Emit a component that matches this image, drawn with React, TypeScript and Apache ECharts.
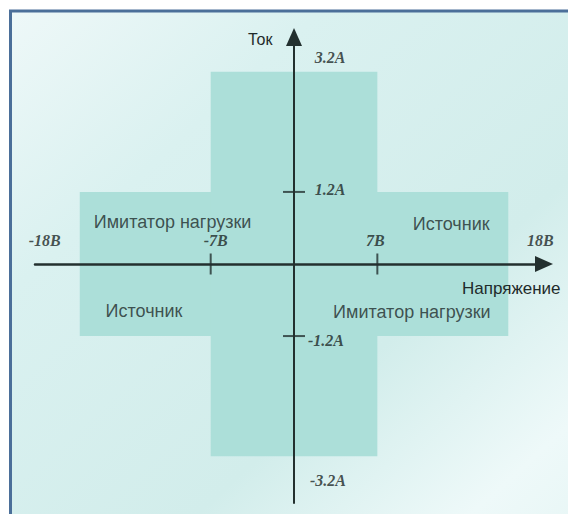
import React, { useEffect, useRef } from "react";
import * as echarts from "echarts";

// Operating region (volts, amps)
const outerVoltage = [-18, 18];
const outerCurrent = [-1.2, 1.2];
const innerVoltage = [-7, 7];
const innerCurrent = [-3.2, 3.2];

// Tick marks on axes
const voltageTicks = [-7, 7];
const currentTicks = [1.2, -1.2];

// Axis value labels
const voltageLabels = ["-18B", "-7B", "7B", "18B"];
const voltageLabelValues = [-18, -7, 7, 18];
const currentLabels = ["3.2A", "1.2A", "-1.2A", "-3.2A"];
const currentLabelValues = [3.2, 1.2, -1.2, -3.2];

// Quadrant annotations
const regionNames = ["Имитатор нагрузки", "Источник", "Источник", "Имитатор нагрузки"];
const regionX = [-10.2, 13.2, -12.6, 9.9];
const regionY = [0.7, 0.67, -0.78, -0.8];

const voltageLabelOffsets: [number, number][] = [[-35, -23], [5, -23], [-2, -23], [32, -23]];
const currentLabelOffsets: [number, number][] = [[36, -14], [36, -2], [32, 4], [34, 24]];

const serifBI = {
  fontFamily: "Liberation Serif",
  fontStyle: "italic" as const,
  fontWeight: "bold" as const,
  fontSize: 16,
  color: "#1c2727",
};

export default function App() {
  const ref = useRef<HTMLDivElement>(null);
  useEffect(() => {
    if (!ref.current) return;
    const chart = echarts.init(ref.current, null, { renderer: "svg" });
    const axisColor = "#23302f";
    const option: any = {
      animation: false,
      graphic: [
        {
          type: "rect",
          z: -10,
          silent: true,
          shape: { x: 10.5, y: 11, width: 620, height: 560 },
          style: {
            fill: new echarts.graphic.LinearGradient(0, 0, 1, 1, [
              { offset: 0, color: "#eef8f8" },
              { offset: 0.25, color: "#daf1f0" },
              { offset: 0.6, color: "#d2edeb" },
              { offset: 0.82, color: "#eef9f9" },
              { offset: 1, color: "#e3f4f3" },
            ]),
            stroke: "#4b6f99",
            lineWidth: 3,
          },
        },
        {
          type: "text",
          z: 100,
          left: 248,
          top: 31,
          style: { text: "Ток", font: "16px 'Liberation Sans'", fill: "#1f2b2b" },
        },
        {
          type: "text",
          z: 100,
          left: 462,
          top: 280,
          style: { text: "Напряжение", font: "17px 'Liberation Sans'", fill: "#1f2b2b" },
        },
      ],
      grid: { left: 35, right: 24, top: 37, bottom: 11, containLabel: false },
      xAxis: {
        type: "value",
        z: 10,
        min: -21.76,
        max: 21.0,
        axisLine: {
          onZero: true,
          symbol: ["none", "triangle"],
          symbolSize: [16, 18],
          lineStyle: { color: axisColor, width: 2.5 },
        },
        axisTick: { show: false },
        axisLabel: { show: false },
        splitLine: { show: false },
      },
      yAxis: {
        type: "value",
        z: 10,
        min: -3.98,
        max: 3.78,
        axisLine: {
          onZero: true,
          symbol: ["none", "triangle"],
          symbolSize: [16, 18],
          lineStyle: { color: axisColor, width: 2 },
        },
        axisTick: { show: false },
        axisLabel: { show: false },
        splitLine: { show: false },
      },
      series: [
        {
          type: "scatter",
          name: "region",
          data: [],
          z: -1,
          markArea: {
            silent: true,
            itemStyle: { color: "#acdfd9", opacity: 1 },
            data: [
              [{ coord: [outerVoltage[0], outerCurrent[0]] }, { coord: [outerVoltage[1], outerCurrent[1]] }],
              [{ coord: [innerVoltage[0], innerCurrent[0]] }, { coord: [innerVoltage[1], innerCurrent[1]] }],
            ],
          },
        },
        {
          type: "scatter",
          name: "vticks",
          z: 15,
          symbol: "rect",
          symbolSize: [2, 21],
          itemStyle: { color: axisColor },
          data: voltageTicks.map((v) => [v, 0]),
        },
        {
          type: "scatter",
          name: "cticks",
          z: 15,
          symbol: "rect",
          symbolSize: [22, 2],
          itemStyle: { color: axisColor },
          data: currentTicks.map((c) => [0, c]),
        },
        {
          type: "scatter",
          name: "vlabels",
          z: 16,
          symbolSize: 0,
          data: voltageLabelValues.map((v, i) => ({
            value: [v, 0],
            label: {
              show: true,
              position: "inside",
              offset: voltageLabelOffsets[i],
              formatter: voltageLabels[i],
              ...serifBI,
            },
          })),
        },
        {
          type: "scatter",
          name: "clabels",
          z: 16,
          symbolSize: 0,
          data: currentLabelValues.map((c, i) => ({
            value: [0, c],
            label: {
              show: true,
              position: "inside",
              offset: currentLabelOffsets[i],
              formatter: currentLabels[i],
              ...serifBI,
            },
          })),
        },
        {
          type: "scatter",
          name: "regions",
          z: 16,
          symbolSize: 0,
          data: regionNames.map((n, i) => ({
            value: [regionX[i], regionY[i]],
            label: {
              show: true,
              position: "inside",
              formatter: n,
              fontFamily: "Liberation Sans",
              fontSize: 18,
              color: "#1f2b2b",
            },
          })),
        },
      ],
    };
    chart.setOption(option);
    return () => chart.dispose();
  }, []);
  return (
    <div
      ref={ref}
      style={{ position: "absolute", left: 0, top: 0, width: 568, height: 514, background: "#ffffff" }}
    />
  );
}
